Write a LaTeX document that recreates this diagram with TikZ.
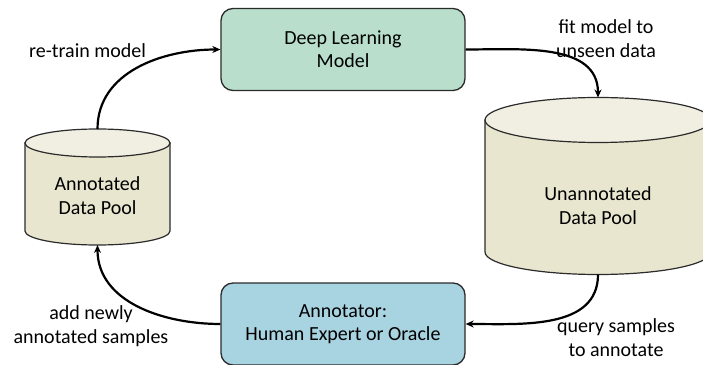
\documentclass[tikz,border=0pt]{standalone}
\usepackage{fontspec}
\setmainfont{Carlito}
\usetikzlibrary{arrows.meta,positioning}
\definecolor{mdlgreen}{HTML}{B9DFCC}
\definecolor{annblue}{HTML}{A8D3E1}
\definecolor{poolbody}{HTML}{E9E6CF}
\definecolor{pooltop}{HTML}{F1EFE1}
\definecolor{edgegray}{HTML}{2B2B2B}

\begin{document}
\begin{tikzpicture}[x=1pt,y=1pt,
  pbox/.style={draw=edgegray,line width=1.3pt,rounded corners=12pt,
    minimum width=244pt,minimum height=82pt,align=center,
    font=\fontsize{20}{23}\selectfont},
  pool/.style={inner sep=0pt,outer sep=0pt},
  poolline/.style={draw=edgegray,line width=1.2pt},
  lbl/.style={align=center,font=\fontsize{20}{24}\selectfont},
  flow/.style={line width=2.2pt,-{Stealth[length=8pt,width=7pt]}}]
 \useasboundingbox (0,0) rectangle (703,364);
 \clip (0,0) rectangle (703,364);
 % the two boxes
 \node[pbox,fill=mdlgreen] (model) at (343,314.5) {Deep Learning\\Model};
 \node[pbox,fill=annblue] (annot) at (343,40) {Annotator:\\Human Expert or Oracle};
 % the two data pools (node = outline of the whole can)
 \node[pool,minimum width=145pt,minimum height=116pt] (lpool) at (97.5,177) {};
 \node[pool,minimum width=226pt,minimum height=177pt] (upool) at (598,178) {};
 \foreach \P/\rx/\ry in {lpool/72.5/14,upool/113/22.5} {
  \draw[poolline,fill=poolbody] ([yshift=-\ry pt]\P.north west)
    -- ([yshift=\ry pt]\P.south west)
    arc[start angle=180,end angle=360,x radius=\rx,y radius=\ry]
    -- ([yshift=-\ry pt]\P.north east) -- cycle;
  \draw[poolline,fill=pooltop] ([yshift=-\ry pt]\P.north)
    ellipse[x radius=\rx,y radius=\ry];
 }
 \node[lbl] (lpooltxt) at ([yshift=-9pt]lpool.center) {Annotated\\Data Pool};
 \node[lbl] (upooltxt) at ([yshift=-20pt]upool.center) {Unannotated\\Data Pool};
 % the loop
 \draw[flow] (lpool.north) to[out=90,in=180] (model.west);
 \draw[flow] (model.east) to[out=0,in=90] (upool.north);
 \draw[flow] (upool.south) to[out=-90,in=0] (annot.east);
 \draw[flow] (annot.west) to[out=180,in=-90] (lpool.south);
 % step labels
 \node[lbl] (retrain) at (87.5,313) {re-train model};
 \node[lbl] (fit) at (606,325) {fit model to\\unseen data};
 \node[lbl] (addnew) at (91,38) {add newly\\annotated samples};
 \node[lbl] (query) at (616,26) {query samples\\to annotate};
\end{tikzpicture}
\end{document}
